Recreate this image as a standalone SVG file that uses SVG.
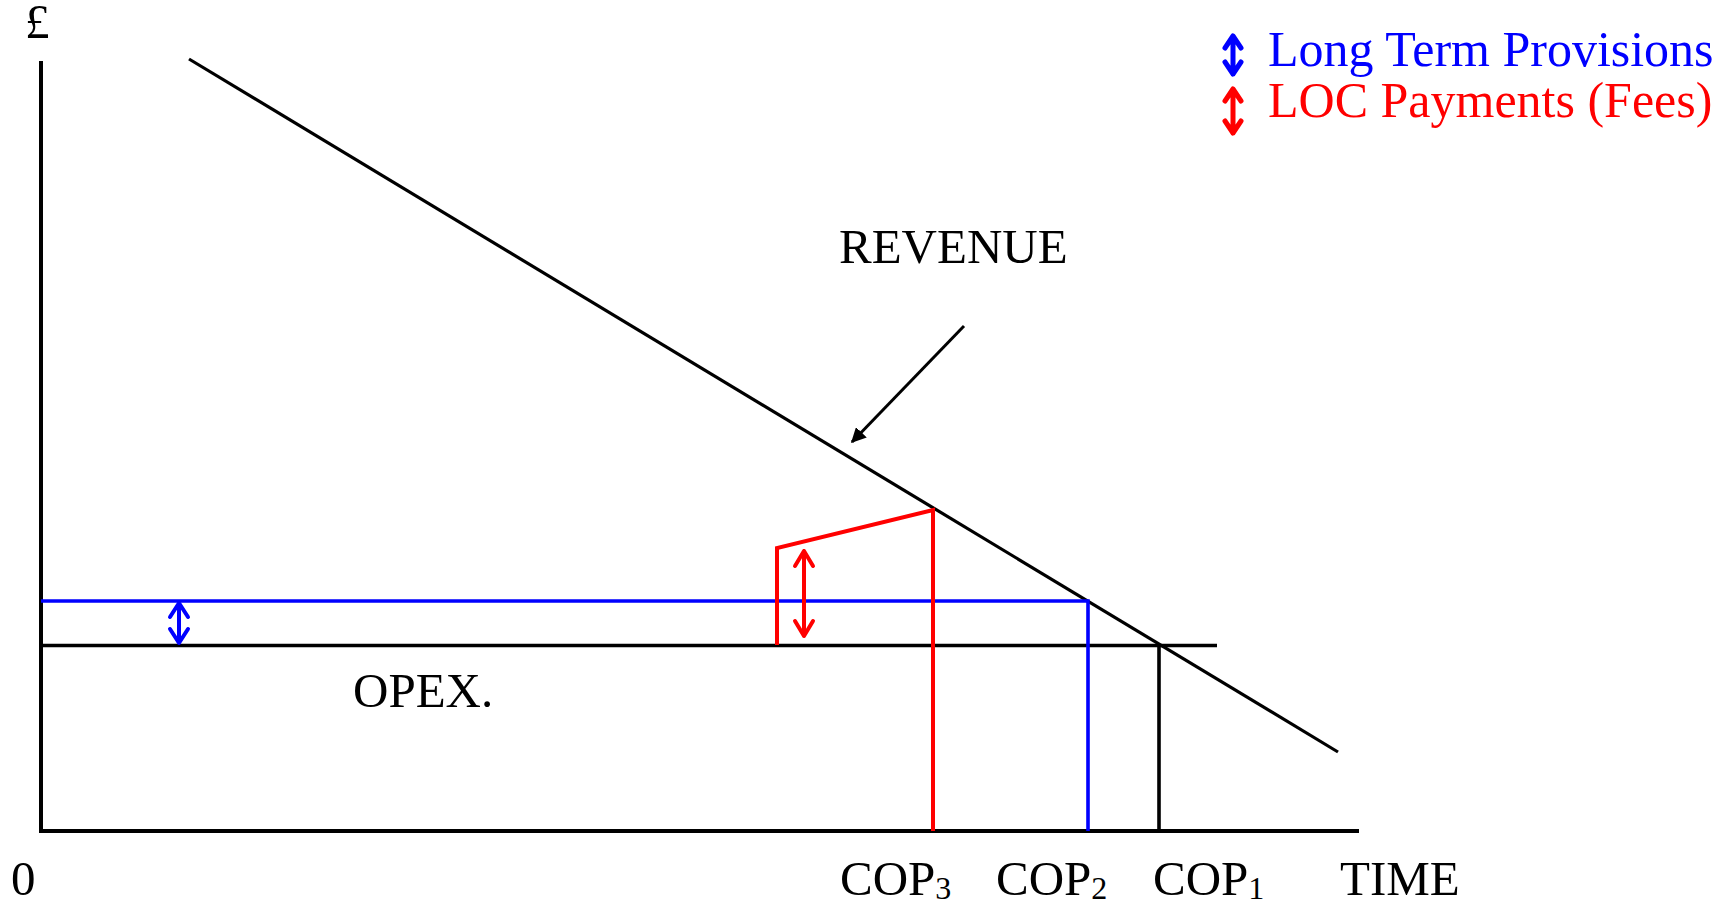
<svg xmlns="http://www.w3.org/2000/svg" width="1733" height="902" viewBox="0 0 1733 902">
<style>
.t{font-family:"Liberation Serif","Times New Roman",serif;font-size:49px;fill:#000}
.lg{font-size:50px}
.blue{fill:#0000ff}.red{fill:#ff0000}
.ln{fill:none;stroke-linecap:butt;stroke-linejoin:miter}
</style>
<defs>
<marker id="ah" viewBox="0 0 10 10" refX="9" refY="5" markerWidth="5" markerHeight="5" orient="auto" markerUnits="strokeWidth">
<path d="M0,0 L10,5 L0,10 z" fill="#000"/>
</marker>
</defs>
<rect width="1733" height="902" fill="#fff"/>
<g id="axes">
<path class="ln" d="M41,61 V831 H1359" stroke="#000" stroke-width="4"/>
<text class="t" x="25" y="38" font-size="44">£</text>
<text class="t" x="11" y="895">0</text>
<text class="t" x="1340" y="895">TIME</text>
</g>
<g id="revenue">
<line x1="189" y1="59" x2="1338" y2="752" stroke="#000" stroke-width="3.2"/>
<text class="t" x="839" y="263">REVENUE</text>
</g>
<g id="opex">
<line x1="41" y1="645.5" x2="1217" y2="645.5" stroke="#000" stroke-width="3.6"/>
<text class="t" x="353" y="707">OPEX.</text>
</g>
<g id="cop1">
<line x1="1159" y1="645" x2="1159" y2="831" stroke="#000" stroke-width="3.6"/>
<text class="t" x="1153" y="895">COP<tspan font-size="32" dy="4">1</tspan></text>
</g>
<g id="cop2">
<path class="ln" d="M41,601 H1088 V831" stroke="#0000ff" stroke-width="3.6"/>
<text class="t" x="996" y="895">COP<tspan font-size="32" dy="4">2</tspan></text>
</g>
<g id="cop3">
<path class="ln" d="M777,645 V548 L933,510 V831" stroke="#ff0000" stroke-width="4"/>
<text class="t" x="840" y="895">COP<tspan font-size="32" dy="4">3</tspan></text>
</g>
<g id="connectors">
<line x1="964" y1="326" x2="852" y2="442" stroke="#000" stroke-width="3" marker-end="url(#ah)"/>
<g id="provision-arrow" fill="none" stroke="#0000ff" stroke-width="4" stroke-linecap="round" stroke-linejoin="round">
<path d="M179,603 V643 M170,617 L179,603 L188,617 M170,629 L179,643 L188,629"/>
</g>
<g id="loc-arrow" fill="none" stroke="#ff0000" stroke-width="4" stroke-linecap="round" stroke-linejoin="round">
<path d="M804,551 V636 M795,566 L804,551 L813,566 M795,621 L804,636 L813,621"/>
</g>
</g>
<g id="legend">
<path d="M1233,36 V74 M1225,48 L1233,36 L1241,48 M1225,62 L1233,74 L1241,62" fill="none" stroke="#0000ff" stroke-width="5" stroke-linecap="round" stroke-linejoin="round"/>
<text class="t lg blue" x="1268" y="66">Long Term Provisions</text>
<path d="M1233,89 V133 M1225,101 L1233,89 L1241,101 M1225,121 L1233,133 L1241,121" fill="none" stroke="#ff0000" stroke-width="5" stroke-linecap="round" stroke-linejoin="round"/>
<text class="t lg red" x="1268" y="117">LOC Payments (Fees)</text>
</g>
</svg>
